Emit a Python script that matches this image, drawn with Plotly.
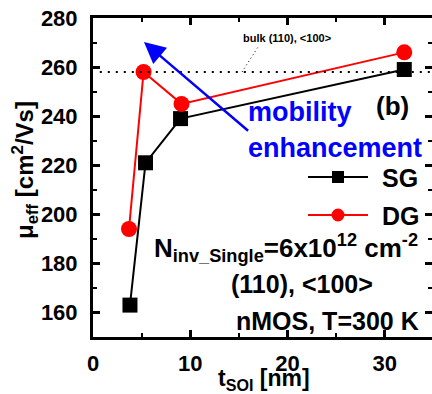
import plotly.graph_objects as go

# ---- data ----
t_sg = [3.8, 5.4, 9.0, 32.0]
mu_sg = [163, 221, 239, 259]
t_dg = [3.7, 5.2, 9.1, 32.0]
mu_dg = [194, 258, 245, 266]
bulk_mu = 258
x_ticks = [0, 10, 20, 30]
y_ticks = [160, 180, 200, 220, 240, 260, 280]

FONT = "Liberation Sans, Arial, Helvetica, sans-serif"

W, H = 432, 394
L, R, T, B = 93, 0, 18, 57
PW, PH = W - L - R, H - T - B


def px(X):
    return (X - L) / PW


def py(Y):
    return (H - B - Y) / PH


fig = go.Figure()

fig.add_trace(go.Scatter(
    x=t_sg, y=mu_sg, mode="lines+markers", name="SG",
    line=dict(color="black", width=2),
    marker=dict(symbol="square", size=15, color="black"),
    showlegend=False, cliponaxis=False))
fig.add_trace(go.Scatter(
    x=t_dg, y=mu_dg, mode="lines+markers", name="DG",
    line=dict(color="#FF0000", width=2),
    marker=dict(symbol="circle", size=16, color="#FF0000"),
    showlegend=False, cliponaxis=False))

shapes = []
# bulk reference dotted line
shapes.append(dict(type="line", xref="x", yref="y", x0=0.7, x1=34.85,
                   y0=bulk_mu, y1=bulk_mu,
                   line=dict(color="black", width=2, dash="2px,6px")))
# leader line for bulk label
shapes.append(dict(type="line", xref="paper", yref="paper",
                   x0=px(242), y0=py(72), x1=px(258), y1=py(47),
                   line=dict(color="black", width=1, dash="1px,3px")))

# manual legend
for yy, col, sym in [(177, "black", "rect"), (215, "#FF0000", "circle")]:
    shapes.append(dict(type="line", xref="paper", yref="paper",
                       x0=px(308), x1=px(368), y0=py(yy), y1=py(yy),
                       line=dict(color=col, width=2)))
    r = 6 if sym == "rect" else 6.5
    shapes.append(dict(type=sym, xref="paper", yref="paper",
                       xsizemode="pixel", ysizemode="pixel",
                       xanchor=px(338), yanchor=py(yy),
                       x0=-r, x1=r, y0=-r, y1=r,
                       fillcolor=col, line=dict(color=col, width=0)))

bold = dict(family=FONT, weight="bold", color="black")

annotations = [
    # arrow
    dict(x=5.24, y=270.2, ax=16.1, ay=233.5, xref="x", yref="y",
         axref="x", ayref="y", text="", showarrow=True,
         arrowhead=2, arrowsize=1.7, arrowwidth=2.5, arrowcolor="#0000FF",
         standoff=0, startstandoff=0),
    dict(x=px(287), y=py(38), xref="paper", yref="paper", text="bulk (110), <100>",
         showarrow=False, font=dict(bold, size=11), xanchor="center", yanchor="middle"),
    dict(x=px(246), y=py(112), xref="paper", yref="paper", text="mobility",
         showarrow=False, font=dict(family=FONT, weight="bold", color="#0000FF", size=27),
         xanchor="left", yanchor="middle"),
    dict(x=px(246), y=py(148), xref="paper", yref="paper", text="enhancement",
         showarrow=False, font=dict(family=FONT, weight="bold", color="#0000FF", size=27),
         xanchor="left", yanchor="middle"),
    dict(x=px(374), y=py(106), xref="paper", yref="paper", text="(b)",
         showarrow=False, font=dict(bold, size=26), xanchor="left", yanchor="middle"),
    dict(x=px(380), y=py(178), xref="paper", yref="paper", text="SG",
         showarrow=False, font=dict(bold, size=25), xanchor="left", yanchor="middle"),
    dict(x=px(380), y=py(216), xref="paper", yref="paper", text="DG",
         showarrow=False, font=dict(bold, size=25), xanchor="left", yanchor="middle"),
    dict(x=px(152), y=py(248), xref="paper", yref="paper",
         text="N<sub>inv_Single</sub>=6x10<sup>12</sup> cm<sup>-2</sup>",
         showarrow=False, font=dict(bold, size=26), xanchor="left", yanchor="middle"),
    dict(x=px(302), y=py(284), xref="paper", yref="paper", text="(110), <100>",
         showarrow=False, font=dict(bold, size=25), xanchor="center", yanchor="middle"),
    dict(x=px(421), y=py(321), xref="paper", yref="paper", text="nMOS, T=300 K",
         showarrow=False, font=dict(bold, size=25), xanchor="right", yanchor="middle"),
    # axis titles
    dict(x=px(25), y=py(170), xref="paper", yref="paper",
         text="\u03bc<sub>eff</sub> [cm<sup>2</sup>/Vs]", textangle=-90,
         showarrow=False, font=dict(bold, size=24), xanchor="center", yanchor="middle"),
    dict(x=px(264), y=py(379), xref="paper", yref="paper",
         text="t<sub>SOI</sub> [nm]",
         showarrow=False, font=dict(bold, size=23), xanchor="center", yanchor="middle"),
]

axis_common = dict(
    showline=True, linecolor="black", linewidth=3, mirror="ticks",
    ticks="inside", ticklen=7, tickwidth=2.5, tickcolor="black",
    showgrid=False, zeroline=False,
    tickfont=dict(family=FONT, weight="bold", size=22, color="black"),
    automargin=False,
)

fig.update_layout(
    width=W, height=H, autosize=False,
    margin=dict(l=L, r=R, t=T, b=B, pad=0),
    paper_bgcolor="white", plot_bgcolor="white",
    showlegend=False,
    xaxis=dict(axis_common, range=[0, 34.85], tickvals=x_ticks,
               minor=dict(ticks="inside", dtick=5, tick0=0, ticklen=4, tickwidth=2, tickcolor="black"),
               ticklabelstandoff=5),
    yaxis=dict(axis_common, range=[150, 280], tickvals=y_ticks,
               minor=dict(ticks="inside", dtick=10, tick0=150, ticklen=4, tickwidth=2, tickcolor="black"),
               ticklabelstandoff=8),
    shapes=shapes,
    annotations=annotations,
)

fig.write_html("out.html")
